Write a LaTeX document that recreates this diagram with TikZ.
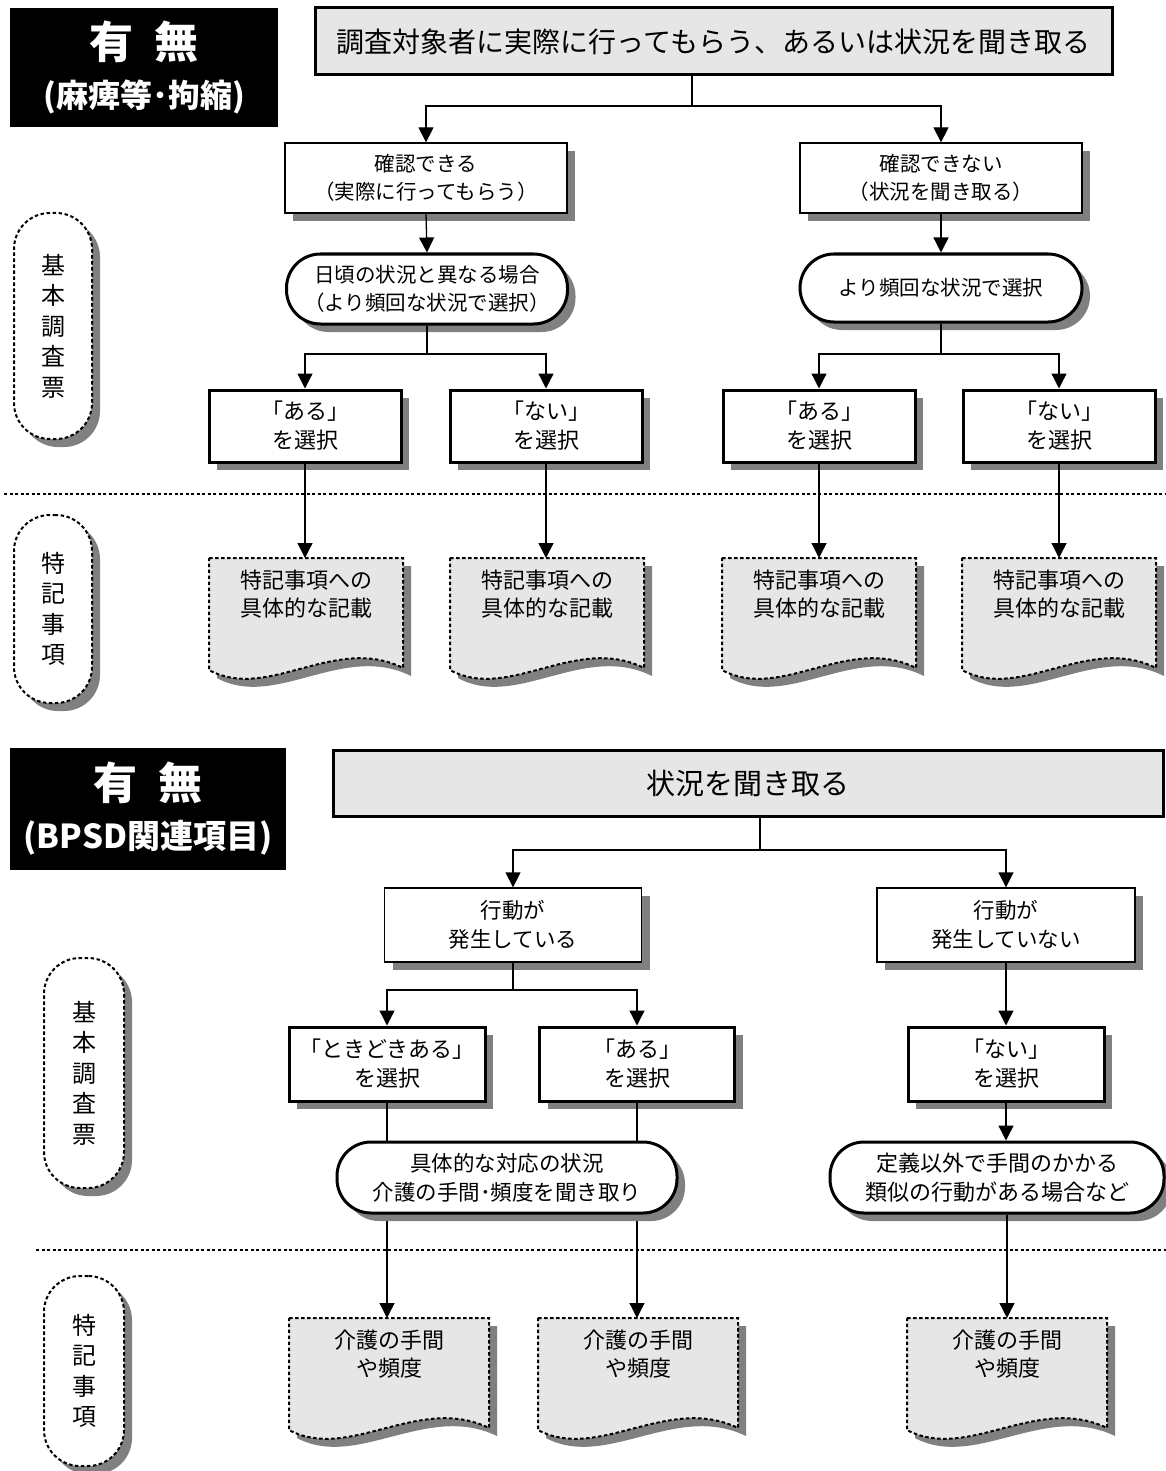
\documentclass[tikz,border=0pt]{standalone}
\usepackage{fontspec}
\setmainfont{Noto Sans CJK JP}
\usetikzlibrary{arrows.meta,shadows}
\definecolor{boxgray}{RGB}{230,230,230}
\definecolor{shgray}{RGB}{128,128,128}
\tikzset{
  shadowed/.style={drop shadow={shadow xshift=8pt,shadow yshift=-8pt,fill=shgray,opacity=1}},
  thinbox/.style={draw,line width=1.3pt,fill=white,shadowed,align=center,inner sep=0pt,font=\fontsize{20.5pt}{28pt}\selectfont},
  thickbox/.style={draw,line width=3pt,fill=white,shadowed,align=center,inner sep=0pt,font=\fontsize{22pt}{29pt}\selectfont},
  roundbox/.style={thickbox,rounded corners=34pt},
  headbox/.style={draw,line width=3pt,fill=boxgray,inner sep=0pt},
  blacklabel/.style={fill=black,text=white,align=center,inner sep=0pt,font=\fontsize{32pt}{49pt}\selectfont\bfseries},
  dotline/.style={line width=2pt,dash pattern=on 3.5pt off 2.5pt},
  sidelabel/.style={draw,dotline,fill=white,rounded corners=36pt,shadowed,align=center,inner sep=0pt,font=\fontsize{24pt}{30.5pt}\selectfont},
  conn/.style={line width=1.3pt},
  arr/.style={conn,-{Triangle[width=15pt,length=15pt]}},
  sepline/.style={line width=2pt,dash pattern=on 3pt off 2.5pt},
  doctext/.style={align=center,inner sep=0pt,font=\fontsize{22pt}{28pt}\selectfont},
}
\newcommand\docbox[5]{%
  \fill[shgray] (#2+8,#3+8) -- ++(#4,0) -- ++(0,110) .. controls +({-0.35*#4},-34) and +({0.3*#4},32) .. (#2+8,#3+120) -- cycle;
  \filldraw[dotline,fill=boxgray] (#2,#3) -- ++(#4,0) -- ++(0,110) .. controls +({-0.35*#4},-34) and +({0.3*#4},32) .. (#2,#3+112) -- cycle;
  \coordinate (#1) at ({#2+#4/2},#3);
  \node[doctext] (#1t) at ({#2+#4/2},#3+36) {#5};
}
\begin{document}
\begin{tikzpicture}[x=1pt,y=-1pt]
\fill[white] (0,0) rectangle (1166,1471);
\useasboundingbox (0,0) rectangle (1166,1471);

% ===== upper part =====
\node[blacklabel,minimum width=268pt,minimum height=119pt] (lab1) at (144,67.5)
  {{\fontsize{44pt}{49pt}\selectfont 有\hspace{22pt}無}\\(麻痺等･拘縮)};
\node[headbox,minimum width=797pt,minimum height=67pt,font=\fontsize{28pt}{32pt}\selectfont] (top1) at (713.5,41.5)
  {調査対象者に実際に行ってもらう、あるいは状況を聞き取る};

\node[sidelabel,minimum width=78pt,minimum height=226pt] (s1) at (53,326) {基\\本\\調\\査\\票};
\node[sidelabel,minimum width=78pt,minimum height=188pt] (s2) at (53,609) {特\\記\\事\\項};

\node[thinbox,minimum width=282pt,minimum height=70pt] (ka) at (426,178) {確認できる\\（実際に行ってもらう）};
\node[thinbox,minimum width=282pt,minimum height=70pt] (kn) at (941,178) {確認できない\\（状況を聞き取る）};
\coordinate (j1) at (692,106);
\draw[conn] (top1.south -| j1) -- (j1);
\draw[arr] (j1) -| (ka.north);
\draw[arr] (j1) -| (kn.north);

\node[roundbox,minimum width=281pt,minimum height=70pt,font=\fontsize{20.5pt}{28pt}\selectfont] (ra) at (427,289) {日頃の状況と異なる場合\\（より頻回な状況で選択）};
\node[roundbox,minimum width=282pt,minimum height=68pt,font=\fontsize{20.5pt}{28pt}\selectfont] (rb) at (941,288) {より頻回な状況で選択};
\draw[arr] (ka.south) -- (ra.north);
\draw[arr] (kn.south) -- (rb.north);

\node[thickbox,minimum width=192pt,minimum height=72pt] (a1) at (305,426) {「ある」\\を選択};
\node[thickbox,minimum width=192pt,minimum height=72pt] (a2) at (546,426) {「ない」\\を選択};
\node[thickbox,minimum width=192pt,minimum height=72pt] (a3) at (819,426) {「ある」\\を選択};
\node[thickbox,minimum width=192pt,minimum height=72pt] (a4) at (1059,426) {「ない」\\を選択};
\coordinate (j2) at (427,354);
\coordinate (j3) at (941,354);
\draw[conn] (ra.south) -- (j2);
\draw[arr] (j2) -| (a1.north);
\draw[arr] (j2) -| (a2.north);
\draw[conn] (rb.south) -- (j3);
\draw[arr] (j3) -| (a3.north);
\draw[arr] (j3) -| (a4.north);

\coordinate (sepa) at (4,494);
\coordinate (sepb) at (1166,494);
\draw[sepline] (sepa) -- (sepb);

\docbox{d1}{209}{558}{194}{特記事項への\\具体的な記載}
\docbox{d2}{450}{558}{194}{特記事項への\\具体的な記載}
\docbox{d3}{722}{558}{194}{特記事項への\\具体的な記載}
\docbox{d4}{962}{558}{194}{特記事項への\\具体的な記載}
\draw[arr] (a1.south) -- (a1.south |- d1);
\draw[arr] (a2.south) -- (a2.south |- d2);
\draw[arr] (a3.south) -- (a3.south |- d3);
\draw[arr] (a4.south) -- (a4.south |- d4);

% ===== lower part =====
\node[blacklabel,minimum width=276pt,minimum height=122pt] (lab2) at (148,809)
  {{\fontsize{44pt}{49pt}\selectfont 有\hspace{22pt}無}\\{\fontsize{33pt}{49pt}\selectfont (BPSD関連項目)}};
\node[headbox,minimum width=830pt,minimum height=66pt,font=\fontsize{29pt}{32pt}\selectfont] (top2) at (748,783) {状況を聞き取る};

\node[sidelabel,minimum width=80pt,minimum height=230pt] (s3) at (84,1073) {基\\本\\調\\査\\票};
\node[sidelabel,minimum width=80pt,minimum height=190pt] (s4) at (84,1371) {特\\記\\事\\項};

\node[thinbox,minimum width=257pt,minimum height=74pt,font=\fontsize{21.5pt}{29pt}\selectfont] (g1) at (513,925) {行動が\\発生している};
\node[thinbox,minimum width=258pt,minimum height=74pt,font=\fontsize{21.5pt}{29pt}\selectfont] (g2) at (1006,925) {行動が\\発生していない};
\coordinate (j4) at (760,850);
\draw[conn] (top2.south -| j4) -- (j4);
\draw[arr] (j4) -| (g1.north);
\draw[arr] (j4) -| (g2.north);

\node[thickbox,minimum width=196pt,minimum height=74pt] (c1) at (387,1064) {「ときどきある」\\を選択};
\node[thickbox,minimum width=195pt,minimum height=74pt] (c2) at (637,1064) {「ある」\\を選択};
\node[thickbox,minimum width=196pt,minimum height=74pt] (c3) at (1006,1064) {「ない」\\を選択};
\coordinate (j5) at (513,990);
\draw[conn] (g1.south) -- (j5);
\draw[arr] (j5) -| (c1.north);
\draw[arr] (j5) -| (c2.north);
\draw[arr] (g2.south) -- (c3.north);

\coordinate (sepc) at (36,1250);
\coordinate (sepd) at (1166,1250);
\draw[sepline] (sepc) -- (sepd);

\docbox{d5}{289}{1318}{200}{介護の手間\\や頻度}
\docbox{d6}{538}{1318}{200}{介護の手間\\や頻度}
\docbox{d7}{907}{1318}{200}{介護の手間\\や頻度}
\draw[arr] (c1.south) -- (c1.south |- d5);
\draw[arr] (c2.south) -- (c2.south |- d6);

\node[roundbox,minimum width=340pt,minimum height=71pt,font=\fontsize{21.5pt}{29pt}\selectfont] (r3) at (507,1177.5) {具体的な対応の状況\\介護の手間･頻度を聞き取り};
\node[roundbox,minimum width=334pt,minimum height=71pt,font=\fontsize{22pt}{29pt}\selectfont] (r4) at (997,1177.5) {定義以外で手間のかかる\\類似の行動がある場合など};
\draw[arr] (c3.south) -- (c3.south |- r4.north);
\draw[arr] (r4.south -| d7) -- (d7);
\end{tikzpicture}
\end{document}
